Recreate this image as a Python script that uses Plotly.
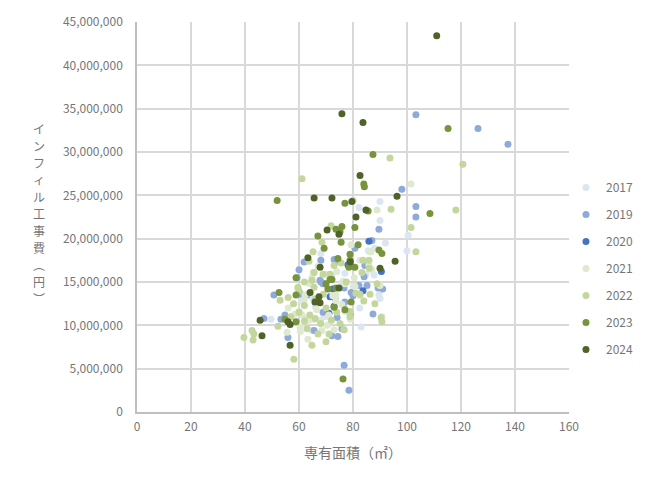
import plotly.graph_objects as go

# 専有面積 (m2) と インフィル工事費 (百万円) を年ごとに
years = ['2017', '2019', '2020', '2021', '2022', '2023', '2024']

area_2017 = [90.0, 82.2, 90.0, 100.4, 100.0, 85.6, 68.1, 86.3, 87.8, 84.8, 77.0, 80.0, 89.6, 90.0,
             83.0, 49.6, 72.2, 76.0, 61.0, 70.0, 88.0, 92.0, 77.0, 66.0, 82.5, 64.8, 69.3, 64.8]
cost_2017 = [24.3, 23.6, 22.1, 20.4, 18.6, 18.6, 18.3, 16.6, 15.8, 15.9, 16.0, 14.5, 13.5, 13.1,
             9.8, 10.7, 15.8, 14.9, 12.8, 11.0, 18.9, 19.5, 11.6, 12.2, 12.0, 13.2, 11.1, 9.4]

area_2019 = [103.3, 126.3, 137.4, 98.1, 103.3, 103.3, 89.6, 80.7, 73.0, 74.0, 61.9, 84.4, 84.1, 68.9,
             67.8, 76.7, 82.2, 85.2, 89.3, 79.3, 77.0, 76.3, 68.9, 87.4, 74.1, 74.4, 72.2, 75.9,
             50.7, 47.0, 53.3, 55.9, 60.7, 59.3, 65.6, 60.0, 68.1, 69.3, 54.8, 76.7, 78.5, 87.0,
             80.0, 91.0, 73.5, 63.0, 79.0, 68.1]
cost_2019 = [34.3, 32.7, 30.9, 25.7, 23.7, 22.5, 21.1, 18.9, 17.6, 17.4, 17.3, 16.9, 15.6, 14.8,
             15.2, 14.3, 14.6, 14.6, 14.3, 13.8, 12.7, 12.4, 11.5, 11.3, 10.9, 8.7, 8.8, 9.6,
             13.5, 10.8, 10.7, 8.6, 13.6, 15.5, 9.4, 16.4, 17.5, 14.8, 11.2, 5.4, 2.5, 19.8,
             13.4, 14.2, 13.0, 13.5, 11.2, 15.0]

area_2020 = [85.9, 78.1, 83.7, 71.5, 71.1, 73.0, 72.5, 90.5]
cost_2020 = [19.7, 17.0, 14.0, 13.3, 11.4, 12.2, 14.2, 16.2]

area_2021 = [101.5, 88.9, 76.3, 86.7, 79.3, 62.0, 66.5, 70.5, 58.5, 64.0, 72.5, 68.0, 60.5, 80.5,
             56.0, 74.0, 67.0, 71.0, 63.0, 67.0, 64.8, 64.4, 62.2, 60.0, 61.1, 63.7, 65.6, 67.8,
             68.5, 63.3, 73.0, 73.7, 75.9, 78.5, 79.0, 76.7, 90.7, 90.0, 82.6, 80.7, 73.7, 71.5,
             77.0, 86.3, 82.6, 85.9, 87.0, 59.6, 55.6, 60.4, 70.0, 65.2]
cost_2021 = [26.3, 23.3, 15.1, 18.5, 19.3, 13.0, 11.8, 10.0, 11.3, 14.8, 13.4, 10.6, 9.3, 15.5,
             12.0, 16.2, 12.7, 11.2, 10.8, 16.8, 15.5, 15.0, 13.5, 11.6, 11.2, 10.6, 10.7, 10.4,
             9.4, 8.4, 9.5, 12.8, 12.4, 11.6, 10.7, 9.5, 11.0, 14.6, 13.4, 14.5, 13.5, 15.8,
             14.8, 18.5, 17.5, 17.0, 16.4, 14.2, 9.2, 9.8, 15.9, 16.1]

area_2022 = [93.7, 120.7, 61.1, 80.0, 94.1, 118.1, 71.9, 101.5, 103.3, 65.2, 83.7, 85.9, 73.0, 83.3,
             86.0, 75.6, 68.9, 71.5, 88.9, 86.3, 81.1, 82.6, 88.1, 78.9, 78.9, 90.4, 90.7, 75.2,
             76.7, 70.0, 53.0, 39.6, 42.6, 43.3, 43.0, 52.2, 58.1, 68.5, 63.7, 65.6, 64.8, 59.6,
             65.6, 64.8, 71.1, 60.0, 62.0, 64.0, 66.0, 68.0, 70.0, 62.0, 58.0, 57.0, 63.0, 67.0,
             69.0, 72.0, 74.0, 60.0, 62.0, 66.0, 56.0, 77.5, 84.0]
cost_2022 = [29.3, 28.6, 26.9, 24.4, 23.4, 23.3, 21.5, 21.3, 18.5, 18.5, 17.5, 17.5, 16.9, 16.1,
             16.6, 17.2, 15.9, 15.9, 14.8, 13.6, 13.7, 13.6, 12.5, 11.6, 11.0, 10.9, 10.4, 10.2,
             9.5, 8.1, 12.9, 8.6, 9.4, 9.0, 8.3, 9.9, 6.1, 19.6, 17.4, 16.1, 15.2, 14.4,
             14.4, 7.7, 9.0, 11.5, 10.5, 11.2, 10.8, 10.2, 12.0, 12.3, 12.5, 11.0, 9.6, 9.0,
             13.6, 10.6, 11.5, 14.0, 15.0, 13.0, 13.2, 15.0, 12.8]

area_2023 = [115.2, 87.4, 84.0, 84.2, 51.9, 77.0, 85.6, 108.5, 75.9, 80.7, 73.7, 75.2, 67.0, 75.6,
             69.3, 81.9, 89.6, 90.7, 78.9, 74.4, 78.9, 78.5, 80.7, 72.2, 70.7, 79.3, 77.0, 52.6,
             58.9, 54.8, 58.9, 58.9, 71.5, 73.7, 73.0, 76.3, 70.0]
cost_2023 = [32.7, 29.7, 26.3, 26.0, 24.4, 24.1, 23.2, 22.9, 21.4, 21.3, 21.1, 20.8, 20.3, 19.6,
             18.9, 19.3, 18.7, 18.3, 18.2, 17.7, 17.5, 16.7, 16.7, 15.3, 14.2, 12.7, 11.8, 13.8,
             10.4, 10.7, 13.5, 15.5, 15.3, 14.3, 12.1, 3.8, 14.8]

area_2024 = [111.0, 75.9, 83.7, 82.6, 65.6, 72.2, 96.3, 79.6, 84.8, 81.1, 70.4, 74.8, 95.6, 63.3,
             67.8, 90.0, 74.8, 45.6, 46.3, 55.9, 56.7, 56.7, 65.9, 67.8, 64.1, 67.4, 79.0]
cost_2024 = [43.4, 34.4, 33.4, 27.3, 24.7, 24.7, 24.9, 24.3, 23.3, 22.5, 21.0, 20.5, 17.4, 17.8,
             16.7, 16.6, 14.3, 10.6, 8.8, 10.4, 10.1, 7.7, 12.7, 12.6, 13.8, 13.3, 17.3]

areas = [area_2017, area_2019, area_2020, area_2021, area_2022, area_2023, area_2024]
costs = [cost_2017, cost_2019, cost_2020, cost_2021, cost_2022, cost_2023, cost_2024]
colors = ['#dce6f2', '#8eaadb', '#4472c4', '#dfe9cf', '#c3d69b', '#77933c', '#4f6228']

y_title = 'インフィル工事費︵円︶'

font = 'Noto Sans CJK JP'
grey = '#767676'

fig = go.Figure()
for yr, xs, ys, c in zip(years, areas, costs, colors):
    fig.add_trace(go.Scatter(
        x=xs, y=[v * 1e6 for v in ys], mode='markers', name=yr, legendgroup=yr,
        marker=dict(size=7, color=c),
    ))

# the page body has an 8px margin, so margins are shifted back by 8px
fig.update_layout(
    width=671, height=492,
    margin=dict(l=129, r=110, t=14, b=88),
    paper_bgcolor='white', plot_bgcolor='white',
    font=dict(family=font, color=grey, size=12),
    legend=dict(x=0.993, y=0.613, xanchor='left', yanchor='top', tracegroupgap=8,
                itemwidth=30, bgcolor='rgba(0,0,0,0)', font=dict(size=12, color=grey)),
)
fig.update_xaxes(
    range=[0, 160], dtick=20, showgrid=True, gridcolor='#d9d9d9', gridwidth=1.5,
    showline=True, linecolor='#bfbfbf', linewidth=1.5, zeroline=False, automargin=False,
    ticklabelstandoff=3,
    title=dict(text='専有面積（㎡）', font=dict(size=14, color=grey), standoff=15),
)
fig.update_yaxes(
    range=[0, 45e6], dtick=5e6, tickformat=',d', showgrid=True, gridcolor='#d9d9d9',
    gridwidth=1.5, showline=True, linecolor='#bfbfbf', linewidth=1.5, zeroline=False,
    automargin=False, ticklabelstandoff=10,
)

# 縦書きの軸タイトル (1文字ずつ)
for i, ch in enumerate(y_title):
    fig.add_annotation(
        text=ch, xref='paper', yref='paper', x=-0.227, y=1,
        xanchor='center', yanchor='middle', yshift=-(106 + 17 * i), showarrow=False,
        borderpad=0, font=dict(size=12, color=grey, family=font),
    )

fig.write_html('out.html')
